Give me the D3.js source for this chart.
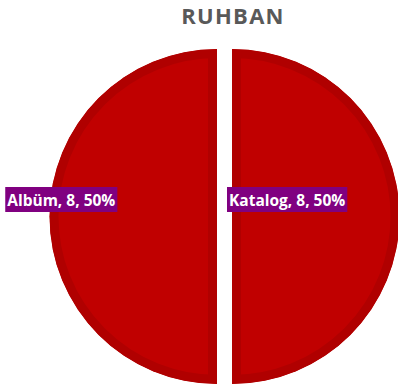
<!DOCTYPE html>
<html>
<head>
<meta charset="utf-8">
<script src="https://cdn.jsdelivr.net/npm/d3@7"></script>
<style>
  body { margin: 0; background: #fff; }
  svg { display: block; }
</style>
</head>
<body>
<div id="chart"></div>
<script>
// data
const title = 'RUHBAN'
const categories = ['Katalog', 'Albüm']
const values = [8, 8]

// size
const W = 398
const H = 390
const cx = 224.5
const cy = 216.5
const radius = 167.5
const explode = 7.5
const border = 9

// style
const fillColor = '#c00000'
const borderColor = '#b00000'
const labelBg = '#800080'

const svg = d3
  .select('#chart')
  .append('svg')
  .attr('width', W)
  .attr('height', H)

// title
svg
  .append('text')
  .attr('x', 233)
  .attr('y', 24)
  .attr('text-anchor', 'middle')
  .attr('font-family', 'Open Sans')
  .attr('font-weight', 'bold')
  .attr('font-size', '22px')
  .attr('letter-spacing', '1.3px')
  .attr('fill', '#595959')
  .text(title)

const total = d3.sum(values)
const data = categories.map((c, i) => ({ name: c, value: values[i] }))

const pie = d3
  .pie()
  .value(d => d.value)
  .sort(null)

const arc = d3.arc().innerRadius(0).outerRadius(radius)

const arcs = pie(data)

const defs = svg.append('defs')

const slices = svg
  .selectAll('g.slice')
  .data(arcs)
  .join('g')
  .attr('class', 'slice')
  .attr('transform', d => {
    const mid = (d.startAngle + d.endAngle) / 2
    const dx = Math.sin(mid) * explode
    const dy = -Math.cos(mid) * explode
    return `translate(${cx + dx}, ${cy + dy})`
  })

slices.each(function(d, i) {
  defs
    .append('clipPath')
    .attr('id', `clip-${i}`)
    .append('path')
    .attr('d', arc(d))
})

// darker inner border, clipped to the slice
slices
  .append('path')
  .attr('d', arc)
  .attr('fill', fillColor)
  .attr('stroke', borderColor)
  .attr('stroke-width', border * 2)
  .attr('stroke-linejoin', 'miter')
  .attr('clip-path', (d, i) => `url(#clip-${i})`)

// labels
const labels = svg
  .selectAll('g.label')
  .data(arcs)
  .join('g')
  .attr('class', 'label')

labels.each(function(d) {
  const g = d3.select(this)
  const mid = (d.startAngle + d.endAngle) / 2
  const right = Math.sin(mid) > 0
  const txt = g
    .append('text')
    .attr('font-family', 'Open Sans')
    .attr('font-weight', 'bold')
    .attr('font-size', '15.5px')
    .attr('fill', '#fff')
    .text(`${d.data.name}, ${d.data.value}, ${Math.round((d.data.value / total) * 100)}%`)
  const w = txt.node().getComputedTextLength()
  const padX = 2
  const bw = w + padX * 2
  const bh = 25
  const x0 = right ? cx + explode - 5 : cx - explode - radius * 0.595 - bw
  const y0 = cy - 29.5
  g.insert('rect', 'text')
    .attr('x', x0)
    .attr('y', y0)
    .attr('width', bw)
    .attr('height', bh)
    .attr('fill', labelBg)
  txt.attr('x', x0 + padX).attr('y', y0 + 18.5)
})
</script>
</body>
</html>
